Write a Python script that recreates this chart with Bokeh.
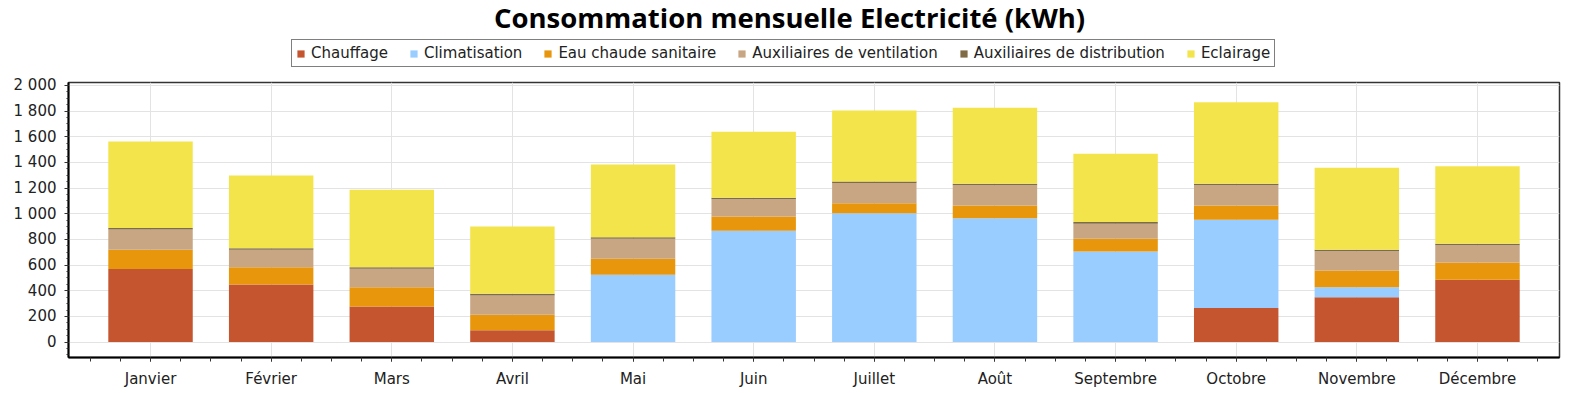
from bokeh.plotting import figure
from bokeh.models import (FixedTicker, Legend, LegendItem, Range1d, ColumnDataSource, Label)
from bokeh.layouts import column
from bokeh.embed import file_html
from bokeh.resources import INLINE

months = ["Janvier", "Février", "Mars", "Avril", "Mai", "Juin", "Juillet",
          "Août", "Septembre", "Octobre", "Novembre", "Décembre"]
chauffage = [570, 449, 278, 93, 0, 0, 0, 0, 0, 265, 350, 486]
climatisation = [0, 0, 0, 0, 525, 868, 1005, 966, 707, 688, 78, 0]
eau_chaude = [150, 135, 150, 121, 125, 111, 78, 99, 98, 112, 130, 135]
ventilation = [157, 136, 144, 150, 156, 134, 157, 157, 118, 157, 150, 134]
distribution = [12, 12, 12, 12, 12, 12, 12, 12, 12, 12, 12, 12]
eclairage = [675, 566, 603, 525, 566, 514, 553, 592, 533, 636, 638, 604]

series_names = ["Chauffage", "Climatisation", "Eau chaude sanitaire",
                "Auxiliaires de ventilation", "Auxiliaires de distribution", "Eclairage"]
series_colors = ["#C5552F", "#99CCFF", "#E8960C", "#C9A683", "#806B47", "#F4E44C"]
y_ticks = list(range(0, 2001, 200))
title_text = "Consommation mensuelle Electricité (kWh)"

keys = ["ch", "cl", "ec", "ve", "di", "el"]
xs = list(range(len(months)))
src = ColumnDataSource(dict(x=xs, ch=chauffage, cl=climatisation, ec=eau_chaude,
                            ve=ventilation, di=distribution, el=eclairage))

FONT = "DejaVu Sans"
W = 1561
TOP_H = 74
MAIN_H = 316

# ---- header figure: title + legend ----
head = figure(width=W, height=TOP_H, output_backend="svg", toolbar_location=None,
              x_range=Range1d(0, W), y_range=Range1d(0, TOP_H),
              x_axis_type=None, y_axis_type=None, min_border=0,
              background_fill_color="white", border_fill_color="white")
head.outline_line_color = None
head.grid.visible = False

head.add_layout(Label(x=721, y=TOP_H - 17, x_units="screen", y_units="screen",
                      text=title_text, text_align="center", text_baseline="middle",
                      text_font="Open Sans", text_font_style="bold",
                      text_font_size="27.5px", text_color="#000000"))

swatches = head.vbar_stack(keys, x="x", width=0.70, color=series_colors, line_color=None, source=src)
for r in swatches:
    r.visible = False
legend = Legend(items=[LegendItem(label=n, renderers=[r]) for n, r in zip(series_names, swatches)],
                orientation="horizontal", location=(223, 7), margin=0, padding=4,
                spacing=21, label_standoff=6, glyph_width=9, glyph_height=9,
                label_text_font=FONT, label_text_font_size="15px", label_text_color="#222222",
                label_height=16, border_line_color="black", border_line_width=1,
                background_fill_color="white", background_fill_alpha=1)
head.add_layout(legend, "center")

# ---- main chart ----
p = figure(width=W, height=MAIN_H, output_backend="svg", toolbar_location=None,
           x_range=Range1d(-0.68, 11.68), y_range=Range1d(-120, 2023),
           min_border_left=68, min_border_right=2, min_border_top=8, min_border_bottom=33,
           background_fill_color="white", border_fill_color="white")

p.vbar_stack(keys, x="x", width=0.70, color=series_colors, line_color=None, source=src)

xax = p.xaxis[0]
xax.ticker = FixedTicker(ticks=xs, minor_ticks=[i / 4 - 0.5 for i in range(0, 4 * len(months) + 1)])
xax.major_label_overrides = {i: m for i, m in enumerate(months)}
xax.axis_line_color = "black"
xax.axis_line_width = 2
xax.major_tick_in = 0
xax.major_tick_out = 4
xax.minor_tick_in = 0
xax.minor_tick_out = 4
xax.major_tick_line_color = "#333333"
xax.minor_tick_line_color = "#333333"
xax.major_label_text_font = FONT
xax.major_label_text_font_size = "15px"
xax.major_label_text_color = "#222222"
xax.major_label_standoff = 8

yax = p.yaxis[0]
yax.ticker = FixedTicker(ticks=y_ticks, minor_ticks=list(range(-100, 2001, 50)))
yax.major_label_overrides = {v: f"{v:,}".replace(",", " ") for v in y_ticks}
yax.axis_line_color = "black"
yax.axis_line_width = 2
yax.major_tick_in = 0
yax.major_tick_out = 4
yax.minor_tick_in = 0
yax.minor_tick_out = 2
yax.major_tick_line_color = "#333333"
yax.minor_tick_line_color = "#333333"
yax.major_label_text_font = FONT
yax.major_label_text_font_size = "15px"
yax.major_label_text_color = "#222222"
yax.major_label_standoff = 8

p.xgrid.grid_line_color = "#E3E3E3"
p.ygrid.grid_line_color = "#E3E3E3"
p.outline_line_color = "#333333"
p.outline_line_width = 1.5

layout = column(head, p, spacing=0)
open("out.html", "w").write(file_html(layout, INLINE))
